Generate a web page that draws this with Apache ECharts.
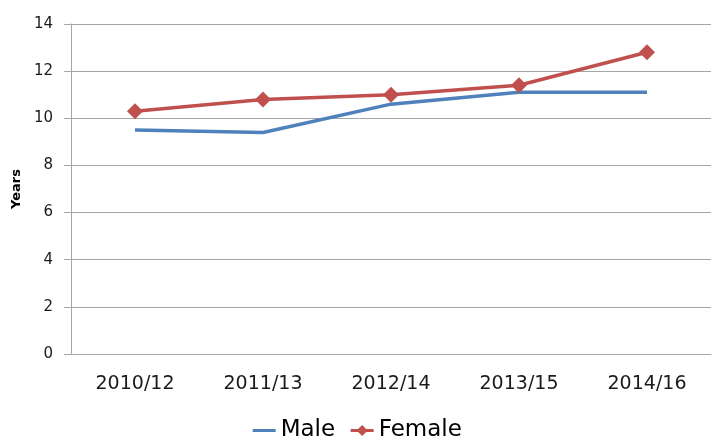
<!DOCTYPE html>
<html>
<head>
<meta charset="utf-8">
<script src="https://cdn.jsdelivr.net/npm/echarts@6/dist/echarts.min.js"></script>
<style>
  html, body { margin: 0; padding: 0; background: #fff; }
  #chart { width: 713px; height: 439px; }
</style>
</head>
<body>
<div id="chart"></div>
<script>
// periods on the x axis
const periods = ['2010/12', '2011/13', '2012/14', '2013/15', '2014/16'];
// life expectancy values (years)
const male = [9.5, 9.4, 10.6, 11.1, 11.1];
const female = [10.3, 10.8, 11.0, 11.4, 12.8];

const chart = echarts.init(document.getElementById('chart'));
const font = 'DejaVu Sans';
const gridColor = '#a6a6a6';

chart.setOption({
  animation: false,
  grid: { left: 71, right: 2, top: 24, bottom: 85 },
  legend: {
    top: 414,
    left: 'center',
    itemWidth: 23,
    itemHeight: 14,
    itemGap: 14,
    textStyle: { fontFamily: font, fontSize: 23, color: '#000' },
    data: [
      { name: 'Male', itemStyle: { opacity: 0 }, lineStyle: { width: 3 } },
      { name: 'Female', lineStyle: { width: 3 } }
    ]
  },
  xAxis: {
    type: 'category',
    data: periods,
    boundaryGap: true,
    axisLine: { lineStyle: { color: gridColor, width: 1 } },
    axisTick: { length: 7, lineStyle: { color: gridColor } },
    axisLabel: { margin: 21, fontFamily: font, fontSize: 19, color: '#1a1a1a' }
  },
  yAxis: {
    type: 'value',
    min: 0,
    max: 14,
    interval: 2,
    name: 'Years',
    nameLocation: 'middle',
    nameGap: 45,
    nameTextStyle: { fontFamily: font, fontSize: 13, fontWeight: 'bold', color: '#000' },
    axisLine: { show: true, lineStyle: { color: gridColor, width: 1 } },
    axisTick: { show: true, length: 7, lineStyle: { color: gridColor } },
    splitLine: { lineStyle: { color: gridColor, width: 1 } },
    axisLabel: { margin: 18, fontFamily: font, fontSize: 15, color: '#1a1a1a' }
  },
  series: [
    {
      name: 'Male',
      type: 'line',
      data: male,
      symbol: 'none',
      lineStyle: { color: '#4f81bd', width: 3.5 },
      itemStyle: { color: '#4f81bd' }
    },
    {
      name: 'Female',
      type: 'line',
      data: female,
      symbol: 'diamond',
      symbolSize: 16,
      lineStyle: { color: '#c0504d', width: 3.5 },
      itemStyle: { color: '#c0504d' }
    }
  ]
});
</script>
</body>
</html>
